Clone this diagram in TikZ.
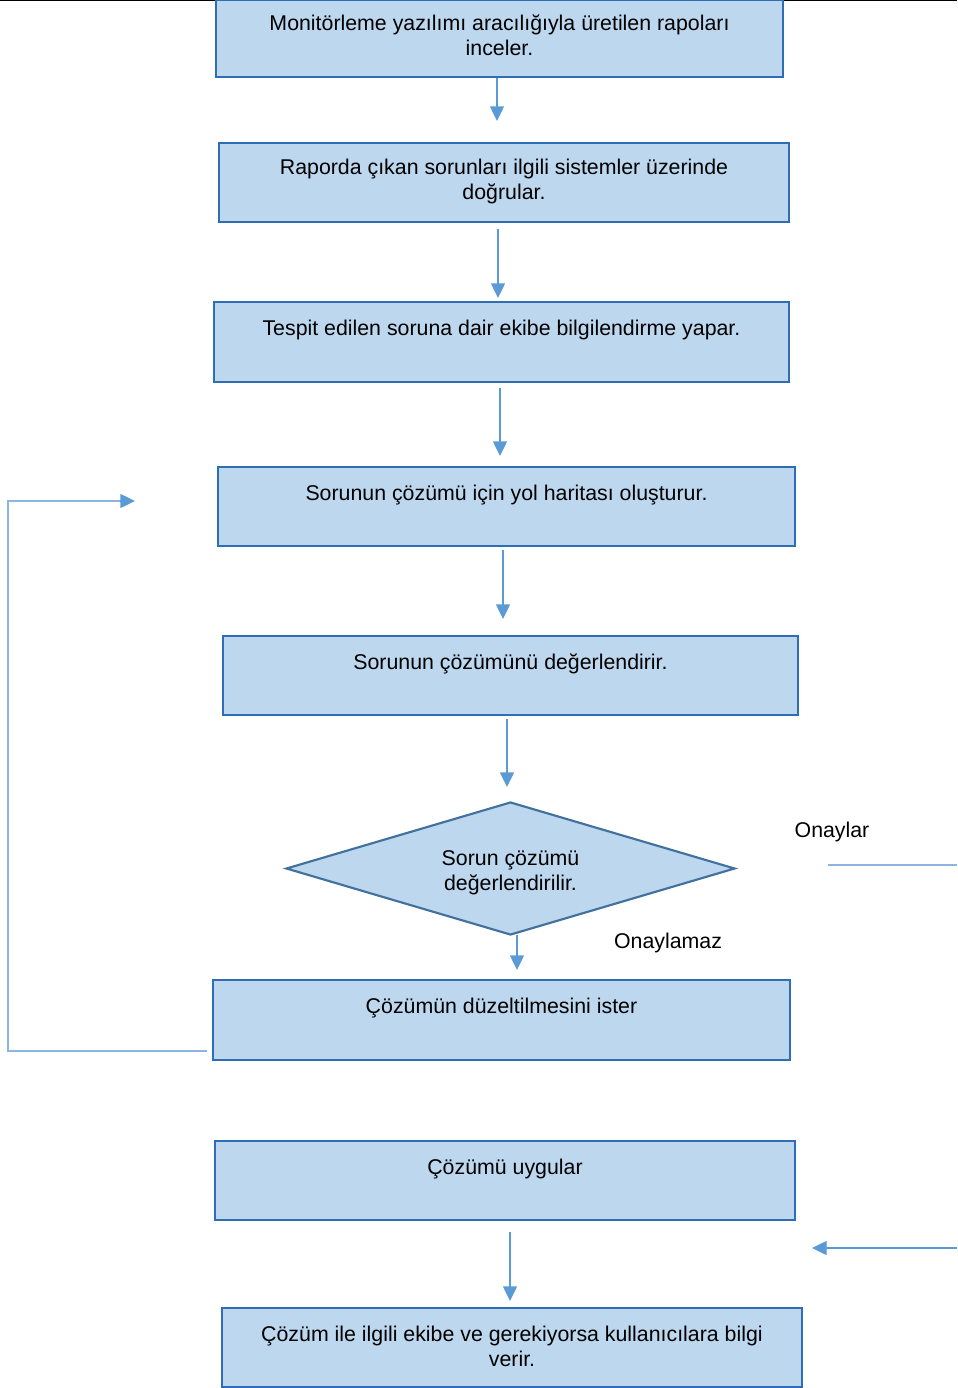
\documentclass[tikz,border=0pt]{standalone}
\usepackage{fontspec}
\setmainfont{Liberation Sans}
\usetikzlibrary{shapes.geometric,arrows.meta}
\definecolor{boxfill}{RGB}{189,215,238}
\definecolor{boxline}{RGB}{46,110,180}
\definecolor{dialine}{RGB}{65,113,156}
\definecolor{arr}{RGB}{91,155,213}
\definecolor{loopc}{RGB}{141,180,226}
\tikzset{
  box/.style={draw=boxline, fill=boxfill, line width=1.8pt, inner sep=0pt},
  txt/.style={font=\fontsize{16}{18.75}\selectfont, align=center, inner sep=0pt, anchor=north},
  flow/.style={draw=arr, line width=1pt, -{Triangle[width=10.5pt,length=11pt]}},
  plain/.style={draw=loopc, line width=1.3pt},
  lbl/.style={font=\fontsize{16}{18.75}\selectfont, inner sep=0pt}
}
\begin{document}
\begin{tikzpicture}[x=0.75pt,y=-0.75pt]
\useasboundingbox (0,0) rectangle (957,1388);
\draw[black, line width=1.2pt] (0,0.6) -- (957,0.6);
% boxes
\node[box, minimum width=567*0.75pt, minimum height=77*0.75pt] (b1) at (499.5,38.5) {};
\node[box, minimum width=570*0.75pt, minimum height=79*0.75pt] (b2) at (504,182.5) {};
\node[box, minimum width=575*0.75pt, minimum height=80*0.75pt] (b3) at (501.5,342) {};
\node[box, minimum width=577*0.75pt, minimum height=79*0.75pt] (b4) at (506.5,506.5) {};
\node[box, minimum width=575*0.75pt, minimum height=79*0.75pt] (b5) at (510.5,675.5) {};
\node[draw=dialine, fill=boxfill, line width=1.6pt, shape=diamond, aspect=3.37, inner sep=0pt,
      minimum width=449*0.75pt, minimum height=133*0.75pt] (d) at (510.5,868.5) {};
\node[box, minimum width=577*0.75pt, minimum height=80*0.75pt] (b6) at (501.5,1020) {};
\node[box, minimum width=580*0.75pt, minimum height=79*0.75pt] (b7) at (505,1180.5) {};
\node[box, minimum width=580*0.75pt, minimum height=79*0.75pt] (b8) at (512,1347.5) {};
% texts
\node[txt] (t1) at (499.5,14.5) {Monitörleme yazılımı aracılığıyla üretilen rapoları\\inceler.};
\node[txt] (t2) at (504,158.5) {Raporda çıkan sorunları ilgili sistemler üzerinde\\doğrular.};
\node[txt] (t3) at (501.5,319.5) {Tespit edilen soruna dair ekibe bilgilendirme yapar.};
\node[txt] (t4) at (506.5,484.5) {Sorunun çözümü için yol haritası oluşturur.};
\node[txt] (t5) at (510.5,653.5) {Sorunun çözümünü değerlendirir.};
\node[txt] (td) at (510.5,850.5) {Sorun çözümü\\değerlendirilir.};
\node[txt] (t6) at (501.5,997.5) {Çözümün düzeltilmesini ister};
\node[txt] (t7) at (505,1158.5) {Çözümü uygular};
\node[txt] (t8) at (512,1325.5) {Çözüm ile ilgili ekibe ve gerekiyorsa kullanıcılara bilgi\\verir.};
\node[lbl] (onay) at (832,832) {Onaylar};
\node[lbl] (onaym) at (668,943) {Onaylamaz};
% coordinates for connectors
\coordinate (a1s) at (497,78);   \coordinate (a1e) at (497,121);
\coordinate (a2s) at (498,229);  \coordinate (a2e) at (498,298);
\coordinate (a3s) at (500,388);  \coordinate (a3e) at (500,456);
\coordinate (a4s) at (503,550);  \coordinate (a4e) at (503,619);
\coordinate (a5s) at (507,719);  \coordinate (a5e) at (507,787);
\coordinate (a6s) at (517,935);  \coordinate (a6e) at (517,970);
\coordinate (a7s) at (510,1232); \coordinate (a7e) at (510,1301);
\coordinate (ls) at (207,1051);  \coordinate (le) at (135,501);
\coordinate (r1s) at (828,865);  \coordinate (r1e) at (957,865);
\coordinate (r2s) at (957,1248); \coordinate (r2e) at (812,1248);
\draw[flow] (a1s) -- (a1e);
\draw[flow] (a2s) -- (a2e);
\draw[flow] (a3s) -- (a3e);
\draw[flow] (a4s) -- (a4e);
\draw[flow] (a5s) -- (a5e);
\draw[flow] (a6s) -- (a6e);
\draw[flow] (a7s) -- (a7e);
\draw[plain] (ls) -- (8,1051) -- (8,501) -- (120,501);
\draw[flow] (120,501) -- (le);
\draw[plain] (r1s) -- (r1e);
\draw[flow] (r2s) -- (r2e);
\end{tikzpicture}
\end{document}
